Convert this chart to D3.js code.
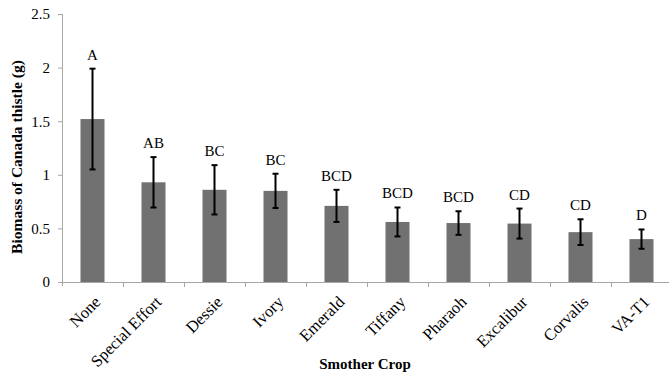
<!DOCTYPE html>
<html>
<head>
<meta charset="utf-8">
<script src="https://cdn.jsdelivr.net/npm/d3@7"></script>
<style>
  body { margin: 0; background: #fff; }
  svg { display: block; font-family: "Liberation Serif", "Times New Roman", serif; }
</style>
</head>
<body>
<div id="chart"></div>
<script>
// Chart data
const crops = ['None', 'Special Effort', 'Dessie', 'Ivory', 'Emerald', 'Tiffany', 'Pharaoh', 'Excalibur', 'Corvalis', 'VA-T1'];
const biomass = [1.52, 0.93, 0.86, 0.85, 0.71, 0.56, 0.55, 0.545, 0.465, 0.40];
const stdErr = [0.47, 0.235, 0.23, 0.16, 0.15, 0.135, 0.11, 0.14, 0.12, 0.09];
const letters = ['A', 'AB', 'BC', 'BC', 'BCD', 'BCD', 'BCD', 'CD', 'CD', 'D'];
const yTicks = [0, 0.5, 1, 1.5, 2, 2.5];

const data = crops.map((c, i) => ({name: c, value: biomass[i], err: stdErr[i], letter: letters[i]}));

const width = 669, height = 375;
const axisColor = "#a6a6a6";

const svg = d3.select("#chart")
    .append("svg")
    .attr("width", width)
    .attr("height", height);

// Scales (chart runs a little past the right edge, as in the original)
const x = d3.scaleBand()
    .domain(crops)
    .range([62, 672])
    .padding(0);

const y = d3.scaleLinear()
    .domain([0, 2.5])
    .range([282, 14]);

const barWidth = 24;

// Y axis
const yAxis = svg.append("g")
    .attr("transform", "translate(62,0)")
    .call(d3.axisLeft(y).tickValues(yTicks).tickSize(4).tickPadding(8)
        .tickFormat(d => d3.format("")(d)));
yAxis.select(".domain").attr("stroke", axisColor).attr("d", "M0.5,14V286");
yAxis.selectAll(".tick line").attr("stroke", axisColor);
yAxis.selectAll(".tick text")
    .attr("fill", "#000")
    .style("font-size", "15px")
    .style("font-family", "Liberation Serif");

// X axis
const xAxis = svg.append("g")
    .attr("transform", "translate(0,282)");
xAxis.append("line")
    .attr("x1", 58).attr("x2", width)
    .attr("y1", 0.5).attr("y2", 0.5)
    .attr("stroke", axisColor);
xAxis.selectAll(".xtick")
    .data(crops.slice(1))
    .enter()
    .append("line")
    .attr("class", "xtick")
    .attr("x1", d => Math.round(x(d)) + 0.5)
    .attr("x2", d => Math.round(x(d)) + 0.5)
    .attr("y1", 0).attr("y2", 5)
    .attr("stroke", axisColor);

xAxis.selectAll(".xlabel")
    .data(crops)
    .enter()
    .append("text")
    .attr("class", "xlabel")
    .attr("text-anchor", "end")
    .attr("transform", d => `translate(${x(d) + x.bandwidth() / 2 + 9},${21}) rotate(-45)`)
    .style("font-size", "16.5px")
    .text(d => d);

// Bars
svg.selectAll(".bar")
    .data(data)
    .enter()
    .append("rect")
    .attr("class", "bar")
    .attr("x", d => x(d.name) + (x.bandwidth() - barWidth) / 2)
    .attr("y", d => y(d.value))
    .attr("width", barWidth)
    .attr("height", d => y(0) - y(d.value))
    .attr("fill", "#717171");

// Error bars
const eb = svg.selectAll(".err")
    .data(data)
    .enter()
    .append("g")
    .attr("class", "err")
    .attr("stroke", "#000")
    .attr("stroke-width", 2);
const cx = d => x(d.name) + x.bandwidth() / 2;
eb.append("line")
    .attr("x1", cx).attr("x2", cx)
    .attr("y1", d => y(d.value + d.err))
    .attr("y2", d => y(d.value - d.err));
eb.append("line")
    .attr("x1", d => cx(d) - 3).attr("x2", d => cx(d) + 3)
    .attr("y1", d => y(d.value + d.err)).attr("y2", d => y(d.value + d.err));
eb.append("line")
    .attr("x1", d => cx(d) - 3).attr("x2", d => cx(d) + 3)
    .attr("y1", d => y(d.value - d.err)).attr("y2", d => y(d.value - d.err));

// Significance letters
svg.selectAll(".letter")
    .data(data)
    .enter()
    .append("text")
    .attr("class", "letter")
    .attr("x", cx)
    .attr("y", d => y(d.value + d.err) - 9)
    .attr("text-anchor", "middle")
    .style("font-size", "15px")
    .text(d => d.letter);

// Axis titles
svg.append("text")
    .attr("transform", "translate(22,157) rotate(-90)")
    .attr("text-anchor", "middle")
    .style("font-size", "15.5px")
    .style("font-weight", "bold")
    .text("Biomass of Canada thistle (g)");

svg.append("text")
    .attr("x", 365)
    .attr("y", 369)
    .attr("text-anchor", "middle")
    .style("font-size", "15px")
    .style("font-weight", "bold")
    .text("Smother Crop");
</script>
</body>
</html>
